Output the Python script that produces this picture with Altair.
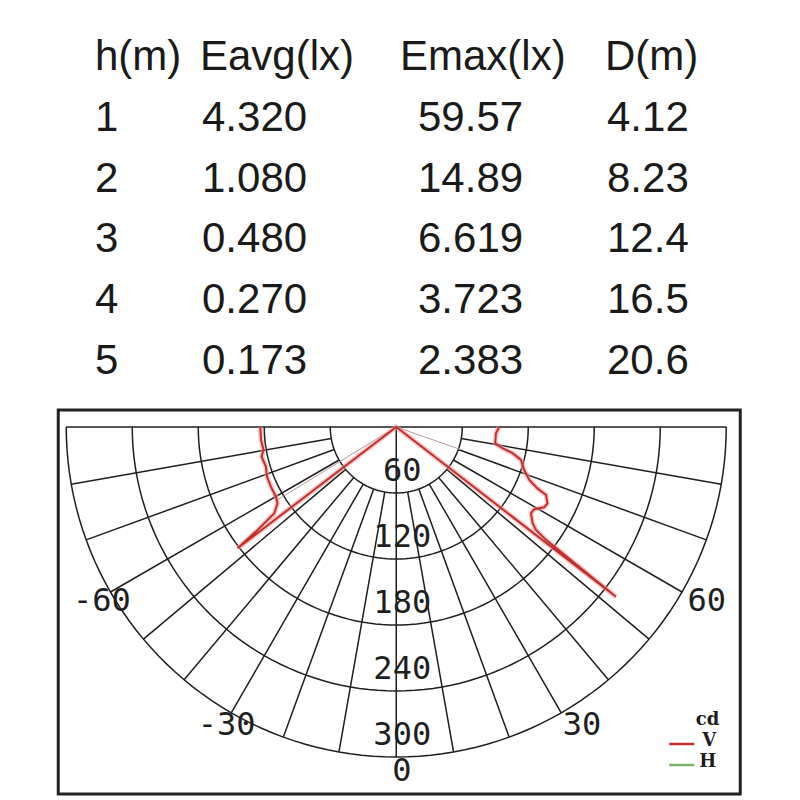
import altair as alt
import pandas as pd

# ---------------- table data ----------------
headers = ["h(m)", "Eavg(lx)", "Emax(lx)", "D(m)"]
heights = ["1", "2", "3", "4", "5"]
eavg = ["4.320", "1.080", "0.480", "0.270", "0.173"]
emax = ["59.57", "14.89", "6.619", "3.723", "2.383"]
dist = ["4.12", "8.23", "12.4", "16.5", "20.6"]

# ---------------- polar data ----------------
ring_values = [60, 120, 180, 240, 300]
angle_labels = [-60, -30, 0, 30, 60]
grid_angles = list(range(-90, 91, 10))

# V-plane curve (angle from nadir in degrees, intensity in cd)
v_theta = [-90, -84.5, -80.2, -77.6, -73.1, -69, -64.5, -59.9, -57.3, -54.7, -53.4, -52.6,
           0,
           52.3, 53, 53.6, 54.8, 57.4, 59.2, 61.5, 63.2, 65.6, 66.5, 68.3, 71.4, 75.2,
           77.3, 78.7, 80.6, 86.4, 90]
v_r = [123.6, 123.5, 122.4, 125.4, 123.8, 125.9, 126.2, 126.4, 128.3, 135.8, 157, 181.5,
       0,
       252.4, 170.5, 157.8, 151.7, 145.4, 146, 153, 154, 149.5, 140, 130.2, 122.7, 117.3,
       108.4, 98.5, 91.2, 90.8, 93.6]

# faint secondary traces from the centre
faint_theta = [-58.5, 70.7]
faint_r = [128, 62]

# ---------------- table chart ----------------
hdr_df = pd.DataFrame({"ci": list(range(4)), "row": [0] * 4, "text": headers})
vals = []
for i in range(5):
    for ci, arr in enumerate([heights, eavg, emax, dist]):
        vals.append({"ci": ci, "row": i + 1, "text": arr[i]})
val_df = pd.DataFrame(vals)

row_scale = alt.Scale(domain=[0, 5], range=[62, 366], nice=False, zero=False)
tfont = dict(font="Liberation Sans", fontSize=42, color="#1a1a1a", align="left", baseline="alphabetic")

hdr_layer = alt.Chart(hdr_df).mark_text(**tfont).encode(
    x=alt.X("ci:Q", scale=alt.Scale(domain=[0, 1, 2, 3], range=[87, 192, 392, 597]), axis=None),
    y=alt.Y("row:Q", scale=row_scale, axis=None),
    text="text:N",
)
val_layer = alt.Chart(val_df).mark_text(**tfont).encode(
    x=alt.X("ci:Q", scale=alt.Scale(domain=[0, 1, 2, 3], range=[87, 194, 410, 599]), axis=None),
    y=alt.Y("row:Q", scale=row_scale, axis=None),
    text="text:N",
)
table = alt.layer(hdr_layer, val_layer).resolve_scale(x="independent").properties(width=784, height=392)

# ---------------- polar chart ----------------
PW, PH = 682, 384
K = 1.1  # px per cd
cx, cy = 338, 17
xs = alt.Scale(domain=[-cx / K, (PW - cx) / K], nice=False, zero=False)
ys = alt.Scale(domain=[-(PH - cy) / K, cy / K], nice=False, zero=False)
GRID = "#1e1e1e"

circ_rows = []
for R in ring_values:
    for a in range(-90, 91, 2):
        circ_rows.append({"ring": R, "ang": a})
circ_df = pd.DataFrame(circ_rows)
circles = alt.Chart(circ_df).transform_calculate(
    x="datum.ring*sin(datum.ang*PI/180)", y="-datum.ring*cos(datum.ang*PI/180)"
).mark_line(color=GRID, strokeWidth=1.5).encode(
    x=alt.X("x:Q", scale=xs, axis=None),
    y=alt.Y("y:Q", scale=ys, axis=None),
    detail="ring:N",
    order="ang:Q",
)

rad_df = pd.DataFrame({
    "ang": grid_angles,
    "r0": [0 if a in (0, -90, 90) else ring_values[0] for a in grid_angles],
    "r1": [ring_values[-1]] * len(grid_angles),
})
radials = alt.Chart(rad_df).transform_calculate(
    x="datum.r0*sin(datum.ang*PI/180)", y="-datum.r0*cos(datum.ang*PI/180)",
    x2="datum.r1*sin(datum.ang*PI/180)", y2="-datum.r1*cos(datum.ang*PI/180)",
).mark_rule(color=GRID, strokeWidth=1.5).encode(
    x=alt.X("x:Q", scale=xs, axis=None),
    y=alt.Y("y:Q", scale=ys, axis=None),
    x2="x2:Q", y2="y2:Q",
)

faint_df = pd.DataFrame({"th": faint_theta, "r": faint_r})
faint = alt.Chart(faint_df).transform_calculate(
    x="datum.r*sin(datum.th*PI/180)", y="-datum.r*cos(datum.th*PI/180)", z="0"
).mark_rule(color="#b79a9a", strokeWidth=1).encode(
    x=alt.X("z:Q", scale=xs, axis=None),
    y=alt.Y("z:Q", scale=ys, axis=None),
    x2="x:Q", y2="y:Q",
)

curve_df = pd.DataFrame({"th": v_theta, "r": v_r, "i": list(range(len(v_theta)))})
curve_base = alt.Chart(curve_df).transform_calculate(
    x="datum.r*sin(datum.th*PI/180)", y="-datum.r*cos(datum.th*PI/180)"
).encode(
    x=alt.X("x:Q", scale=xs, axis=None),
    y=alt.Y("y:Q", scale=ys, axis=None),
    order="i:Q",
)
curve_halo = curve_base.mark_line(color="#ee9a9a", strokeWidth=5, opacity=0.55)
curve = curve_base.mark_line(color="#c0302f", strokeWidth=2)

ring_lab_df = pd.DataFrame({"v": ring_values, "z": [0] * len(ring_values)})
ring_labels = alt.Chart(ring_lab_df).transform_calculate(
    y="-datum.v", t="''+datum.v"
).mark_text(font="DejaVu Sans Mono", fontSize=32, color="#1e1e1e", align="center",
            baseline="alphabetic", dx=6, dy=-12).encode(
    x=alt.X("z:Q", scale=xs, axis=None),
    y=alt.Y("y:Q", scale=ys, axis=None),
    text="t:N",
)

ang_lab_df = pd.DataFrame({"a": angle_labels})
ang_labels = alt.Chart(ang_lab_df).transform_calculate(
    x="310*sin(datum.a*PI/180) - (datum.a < 0 ? 24 : 0)/1.1 - 4/1.1",
    y="-310*cos(datum.a*PI/180)",
    t="''+datum.a",
).mark_text(font="DejaVu Sans Mono", fontSize=32, color="#1e1e1e", align="left",
            baseline="middle", dy=3).encode(
    x=alt.X("x:Q", scale=xs, axis=None),
    y=alt.Y("y:Q", scale=ys, axis=None),
    text="t:N",
)

# legend (cd / V / H)
leg_font = dict(font="DejaVu Serif", fontWeight="bold", fontSize=18, color="#1e1e1e",
                align="right", baseline="alphabetic")
leg_cd = alt.Chart(pd.DataFrame({"t": ["cd"]})).mark_text(**leg_font).encode(
    x=alt.value(661), y=alt.value(315), text="t:N")
leg_v = alt.Chart(pd.DataFrame({"t": ["V"]})).mark_text(**leg_font).encode(
    x=alt.value(658), y=alt.value(336), text="t:N")
leg_h = alt.Chart(pd.DataFrame({"t": ["H"]})).mark_text(**leg_font).encode(
    x=alt.value(658), y=alt.value(357), text="t:N")
leg_vline = alt.Chart(pd.DataFrame({"t": ["V"]})).mark_rule(color="#c0302f", strokeWidth=2.5).encode(
    x=alt.value(611), x2=alt.value(636), y=alt.value(334))
leg_hline = alt.Chart(pd.DataFrame({"t": ["H"]})).mark_rule(color="#7fb06a", strokeWidth=2.5).encode(
    x=alt.value(611), x2=alt.value(636), y=alt.value(355))

polar = alt.layer(
    circles, radials, faint, curve_halo, curve, ring_labels, ang_labels,
    leg_cd, leg_v, leg_h, leg_vline, leg_hline,
).properties(width=PW, height=PH, view=alt.ViewBackground(stroke="#222222", strokeWidth=3))

chart = alt.vconcat(table, polar, spacing=8, center=True).properties(
    padding=0, background="white"
).configure_view(strokeWidth=0)

chart.save("out.html", embed_options={"renderer": "svg", "actions": False})
